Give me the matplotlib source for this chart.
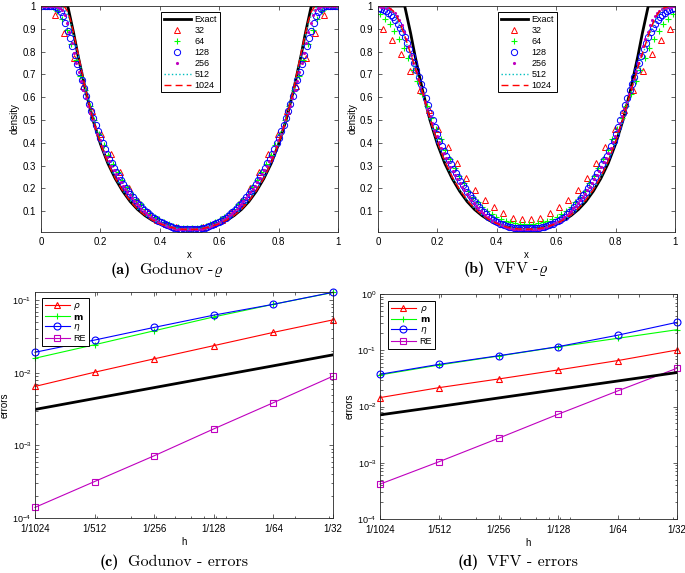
import matplotlib
matplotlib.use('Agg')
import matplotlib.pyplot as plt
from matplotlib.offsetbox import TextArea, HPacker, AnnotationBbox
from matplotlib.ticker import NullFormatter
import numpy as np

# ---- density profiles (left half, mirrored about x = 0.5) ----
EXACT_X = [0.0, 0.09, 0.10, 0.11, 0.125, 0.15, 0.175, 0.2, 0.225, 0.25, 0.275, 0.3,
           0.325, 0.35, 0.375, 0.4, 0.425, 0.45, 0.475, 0.5]
EXACT_Y = [1.0, 1.0, 0.94, 0.88, 0.78, 0.63, 0.50, 0.395, 0.31, 0.243, 0.188, 0.143,
           0.108, 0.081, 0.06, 0.045, 0.034, 0.026, 0.021, 0.02]

# Godunov
GOD_32 = [1.0, 0.96, 0.88, 0.77, 0.65, 0.54, 0.44, 0.35, 0.27, 0.20, 0.143, 0.098,
          0.063, 0.045, 0.03, 0.022]
GOD_64 = [1.0, 1.0, 0.995, 0.98, 0.945, 0.895, 0.835, 0.765, 0.695, 0.63, 0.562, 0.5,
          0.44, 0.39, 0.347, 0.307, 0.27, 0.236, 0.205, 0.177, 0.152, 0.13, 0.11, 0.092,
          0.077, 0.064, 0.053, 0.044, 0.036, 0.031, 0.027, 0.025]
GOD_128 = [1.0, 1.0, 1.0, 1.0, 1.0, 0.998, 0.995, 0.988, 0.975, 0.955, 0.925, 0.89,
           0.86, 0.825, 0.785, 0.745, 0.71, 0.675, 0.64, 0.605, 0.572, 0.54, 0.508, 0.478,
           0.45, 0.423, 0.398, 0.374, 0.352, 0.33, 0.31, 0.29, 0.271, 0.253, 0.236, 0.22,
           0.204, 0.19, 0.176, 0.162, 0.15, 0.138, 0.126, 0.115, 0.105, 0.096, 0.087, 0.079,
           0.071, 0.064, 0.058, 0.052, 0.047, 0.042, 0.038, 0.034, 0.031, 0.028, 0.026, 0.024,
           0.023, 0.022, 0.021, 0.021]
GOD_256 = [1.0, 1.0, 1.0, 1.0, 1.0, 1.0, 0.999, 0.997, 0.992, 0.982, 0.96, 0.925,
           0.885, 0.84, 0.795, 0.75, 0.71, 0.67, 0.632, 0.597, 0.563, 0.531, 0.5, 0.47,
           0.44, 0.412, 0.386, 0.362, 0.34, 0.319, 0.299, 0.28, 0.262, 0.245, 0.228, 0.212,
           0.197, 0.183, 0.17, 0.157, 0.145, 0.133, 0.122, 0.111, 0.101, 0.092, 0.083, 0.075,
           0.068, 0.061, 0.055, 0.049, 0.044, 0.04, 0.036, 0.032, 0.029, 0.026, 0.024, 0.022,
           0.021, 0.02, 0.02, 0.02]
GOD_FINE_X = [0.0, 0.06, 0.07, 0.08, 0.09, 0.1, 0.11, 0.125, 0.15, 0.175, 0.2, 0.225,
              0.25, 0.275, 0.3, 0.325, 0.35, 0.375, 0.4, 0.425, 0.45, 0.475, 0.5]
GOD_512 = [1.0, 0.999, 0.996, 0.985, 0.96, 0.92, 0.87, 0.785, 0.635, 0.505, 0.40, 0.315,
           0.247, 0.192, 0.147, 0.11, 0.083, 0.062, 0.046, 0.035, 0.027, 0.022, 0.021]
GOD_1024 = [1.0, 1.0, 0.999, 0.995, 0.975, 0.935, 0.88, 0.79, 0.633, 0.502, 0.397, 0.312,
            0.245, 0.19, 0.145, 0.109, 0.082, 0.061, 0.045, 0.034, 0.026, 0.021, 0.02]

# VFV
VFV_32 = [0.90, 0.85, 0.79, 0.715, 0.63, 0.545, 0.46, 0.38, 0.31, 0.245, 0.193, 0.148,
          0.117, 0.093, 0.072, 0.066]
VFV_64 = [0.965, 0.945, 0.92, 0.89, 0.855, 0.815, 0.77, 0.72, 0.67, 0.615, 0.56, 0.51,
          0.46, 0.415, 0.37, 0.328, 0.29, 0.255, 0.222, 0.19, 0.163, 0.14, 0.12, 0.103,
          0.089, 0.077, 0.067, 0.059, 0.053, 0.048, 0.045, 0.044]
VFV_128 = [0.99, 0.987, 0.983, 0.977, 0.97, 0.962, 0.952, 0.938, 0.922, 0.905, 0.885, 0.862,
           0.837, 0.81, 0.78, 0.75, 0.72, 0.69, 0.66, 0.632, 0.598, 0.565, 0.532, 0.5,
           0.47, 0.44, 0.41, 0.385, 0.364, 0.344, 0.325, 0.306, 0.287, 0.268, 0.25, 0.233,
           0.216, 0.2, 0.185, 0.17, 0.156, 0.143, 0.13, 0.118, 0.106, 0.096, 0.086, 0.077,
           0.069, 0.062, 0.056, 0.051, 0.046, 0.042, 0.038, 0.035, 0.032, 0.03, 0.028, 0.027,
           0.026, 0.025, 0.025, 0.025]
VFV_256 = [0.998, 0.997, 0.995, 0.993, 0.99, 0.985, 0.978, 0.968, 0.955, 0.938, 0.915, 0.888,
           0.857, 0.823, 0.787, 0.75, 0.715, 0.68, 0.645, 0.612, 0.58, 0.548, 0.517, 0.487,
           0.458, 0.43, 0.403, 0.378, 0.356, 0.335, 0.315, 0.296, 0.277, 0.259, 0.241, 0.224,
           0.208, 0.192, 0.177, 0.163, 0.15, 0.137, 0.125, 0.113, 0.102, 0.092, 0.082, 0.074,
           0.066, 0.059, 0.053, 0.047, 0.042, 0.038, 0.034, 0.031, 0.028, 0.026, 0.024, 0.023,
           0.022, 0.021, 0.021, 0.021]
VFV_FINE_X = [0.0, 0.02, 0.04, 0.05, 0.06, 0.07, 0.08, 0.09, 0.1, 0.11, 0.125, 0.15, 0.175,
              0.2, 0.225, 0.25, 0.275, 0.3, 0.325, 0.35, 0.375, 0.4, 0.425, 0.45, 0.475, 0.5]
VFV_512 = [1.0, 0.997, 0.985, 0.972, 0.952, 0.925, 0.893, 0.858, 0.82, 0.78, 0.72, 0.615,
           0.5, 0.402, 0.318, 0.248, 0.194, 0.149, 0.112, 0.083, 0.061, 0.045, 0.034, 0.026,
           0.022, 0.021]
VFV_1024 = [1.0, 0.999, 0.99, 0.98, 0.962, 0.937, 0.905, 0.87, 0.83, 0.79, 0.73, 0.62,
            0.505, 0.405, 0.32, 0.25, 0.195, 0.15, 0.113, 0.084, 0.062, 0.046, 0.034, 0.026,
            0.022, 0.021]

# ---- errors ----
H = [1 / 1024, 1 / 512, 1 / 256, 1 / 128, 1 / 64, 1 / 32]
H_LABELS = ['1/1024', '1/512', '1/256', '1/128', '1/64', '1/32']

GOD_ERR_RHO = [0.0065, 0.0102, 0.0156, 0.0237, 0.0361, 0.0537]
GOD_ERR_M = [0.0159, 0.0244, 0.038, 0.059, 0.088, 0.128]
GOD_ERR_ETA = [0.0192, 0.0283, 0.0423, 0.0624, 0.088, 0.129]
GOD_ERR_RE = [1.40e-4, 3.18e-4, 7.2e-4, 1.69e-3, 3.88e-3, 9.0e-3]
GOD_REF = [0.00313, 0.00443, 0.00626, 0.00885, 0.0125, 0.0177]

VFV_ERR_RHO = [0.0144, 0.0217, 0.0309, 0.0447, 0.0655, 0.101]
VFV_ERR_M = [0.0364, 0.0548, 0.079, 0.115, 0.163, 0.232]
VFV_ERR_ETA = [0.0374, 0.0563, 0.080, 0.116, 0.185, 0.314]
VFV_ERR_RE = [4.17e-4, 1.05e-3, 2.74e-3, 7.3e-3, 0.0189, 0.0479]
VFV_REF = [0.0071, 0.0100, 0.0142, 0.0201, 0.0284, 0.0402]

AX_COLOR = '#262626'


def mirror(half):
    return list(half) + list(half[::-1])


def mirror_x(half):
    return list(half) + [1.0 - v for v in half[::-1]]


def centers(n, step=1):
    return (np.arange(0, n, step) + 0.5) / n


def style_axes(ax):
    for s in ax.spines.values():
        s.set_linewidth(0.6)
        s.set_color(AX_COLOR)
    ax.tick_params(which='both', direction='in', top=True, right=True, width=0.5,
                   colors=AX_COLOR, labelcolor='black', labelsize=7)
    ax.tick_params(which='major', length=3)
    ax.tick_params(which='minor', length=1.8)


def make_legend(ax, loc, anchor, hl, spacing):
    leg = ax.legend(loc=loc, bbox_to_anchor=anchor, borderaxespad=0, fontsize=6.5,
                    handlelength=hl, handletextpad=0.4, labelspacing=spacing,
                    borderpad=0.3, fancybox=False, framealpha=1, edgecolor='black')
    leg.get_frame().set_linewidth(0.7)


def density_panel(ax, s32, s64, s128, s256, fine_x, s512, s1024, label_x):
    ax.plot(mirror_x(EXACT_X), mirror(EXACT_Y), 'k-', lw=2, label='Exact')
    ax.plot(centers(32), mirror(s32), ls='none', marker='^', ms=5, mfc='none', mec='r',
            mew=0.7, label='32')
    ax.plot(centers(64), mirror(s64), ls='none', marker='+', ms=5, mec=(0, 1, 0),
            mew=0.8, label='64')
    ax.plot(centers(128), mirror(s128), ls='none', marker='o', ms=4.5, mfc='none', mec='b',
            mew=0.7, label='128')
    ax.plot(centers(256, 2), mirror(s256), ls='none', marker='.', ms=2.5, mec='m',
            mfc='m', label='256')
    ax.plot(mirror_x(fine_x), mirror(s512), ls=':', color='c', lw=1, label='512')
    ax.plot(mirror_x(fine_x), mirror(s1024), ls=(0, (5, 3)), color='r', lw=1, label='1024')

    ax.set_xlim(0, 1)
    ax.set_ylim(0.009, 1)
    ax.set_xticks([0, 0.2, 0.4, 0.6, 0.8, 1])
    ax.set_xticklabels(['0', '0.2', '0.4', '0.6', '0.8', '1'])
    ax.set_yticks([0.1, 0.2, 0.3, 0.4, 0.5, 0.6, 0.7, 0.8, 0.9, 1])
    ax.set_yticklabels(['0.1', '0.2', '0.3', '0.4', '0.5', '0.6', '0.7', '0.8', '0.9', '1'])
    ax.set_xlabel('x', fontsize=7, labelpad=2)
    ax.set_ylabel('density', fontsize=7)
    ax.yaxis.set_label_coords(label_x, 0.5)
    style_axes(ax)
    make_legend(ax, 'upper center', (0.503, 0.973), 3.0, 0.22)


def error_panel(ax, rho, m, eta, re, ref, ytop, anchor):
    kw = dict(lw=0.8, ms=5, mew=0.8, clip_on=False)
    ax.loglog(H, rho, '-^', color='r', mfc='none', label=r'$\rho$', **kw)
    ax.loglog(H, m, '-+', color=(0, 1, 0), label=r'$\mathbf{m}$', **kw)
    ax.loglog(H, eta, '-o', color='b', mfc='none', label=r'$\eta$', **kw)
    ax.loglog(H, re, '-s', color='m', mfc='none', lw=0.8, ms=4, mew=0.8, clip_on=False,
              label='RE')
    ax.loglog(H, ref, 'k-', lw=2)

    ax.set_xlim(H[0], H[-1])
    ax.set_ylim(1e-4, ytop)
    ax.set_xticks(H)
    ax.set_xticklabels(H_LABELS)
    ax.xaxis.set_minor_formatter(NullFormatter())
    ax.set_xlabel('h', fontsize=7, labelpad=2)
    ax.set_ylabel('errors', fontsize=7)
    ax.yaxis.set_label_coords(-0.084, 0.5)
    style_axes(ax)
    ax.tick_params(axis='x', which='major', pad=4.5)
    ax.tick_params(axis='y', which='major', labelsize=6.5, pad=2.5)
    make_legend(ax, 'upper left', anchor, 2.8, 0.08)


def caption(fig, x, y, tag, text):
    bold = TextArea('(' + tag + ')', textprops=dict(fontfamily='cmb10', fontsize=11.5))
    rest = TextArea(text, textprops=dict(fontfamily='cmr10', math_fontfamily='cm',
                                         fontsize=11.5))
    box = HPacker(children=[bold, rest], align='baseline', pad=0, sep=6)
    ab = AnnotationBbox(box, (x, y), xycoords='figure fraction', frameon=False,
                        box_alignment=(0.5, 0.5))
    fig.add_artist(ab)


def main():
    plt.rcParams['font.family'] = ['Liberation Sans', 'DejaVu Sans']
    plt.rcParams['axes.unicode_minus'] = False
    fig = plt.figure(figsize=(6.85, 5.73), dpi=100)

    ax_a = fig.add_axes([0.0599, 0.5951, 0.4336, 0.3944])
    ax_b = fig.add_axes([0.5518, 0.5951, 0.4336, 0.3944])
    ax_c = fig.add_axes([0.0511, 0.0960, 0.4350, 0.3944])
    ax_d = fig.add_axes([0.5547, 0.0942, 0.4336, 0.3927])

    density_panel(ax_a, GOD_32, GOD_64, GOD_128, GOD_256, GOD_FINE_X, GOD_512, GOD_1024,
                  -0.072)
    density_panel(ax_b, VFV_32, VFV_64, VFV_128, VFV_256, VFV_FINE_X, VFV_512, VFV_1024,
                  -0.069)
    error_panel(ax_c, GOD_ERR_RHO, GOD_ERR_M, GOD_ERR_ETA, GOD_ERR_RE, GOD_REF, 0.13,
                (0.023, 0.973))
    error_panel(ax_d, VFV_ERR_RHO, VFV_ERR_M, VFV_ERR_ETA, VFV_ERR_RE, VFV_REF, 1.0,
                (0.027, 0.969))

    caption(fig, 0.244, 0.530, 'a', r'Godunov -$\varrho$')
    caption(fig, 0.738, 0.530, 'b', r'VFV -$\varrho$')
    caption(fig, 0.254, 0.018, 'c', 'Godunov - errors')
    caption(fig, 0.756, 0.018, 'd', 'VFV - errors')

    fig.savefig('out.png', dpi=100)


if __name__ == '__main__':
    main()
